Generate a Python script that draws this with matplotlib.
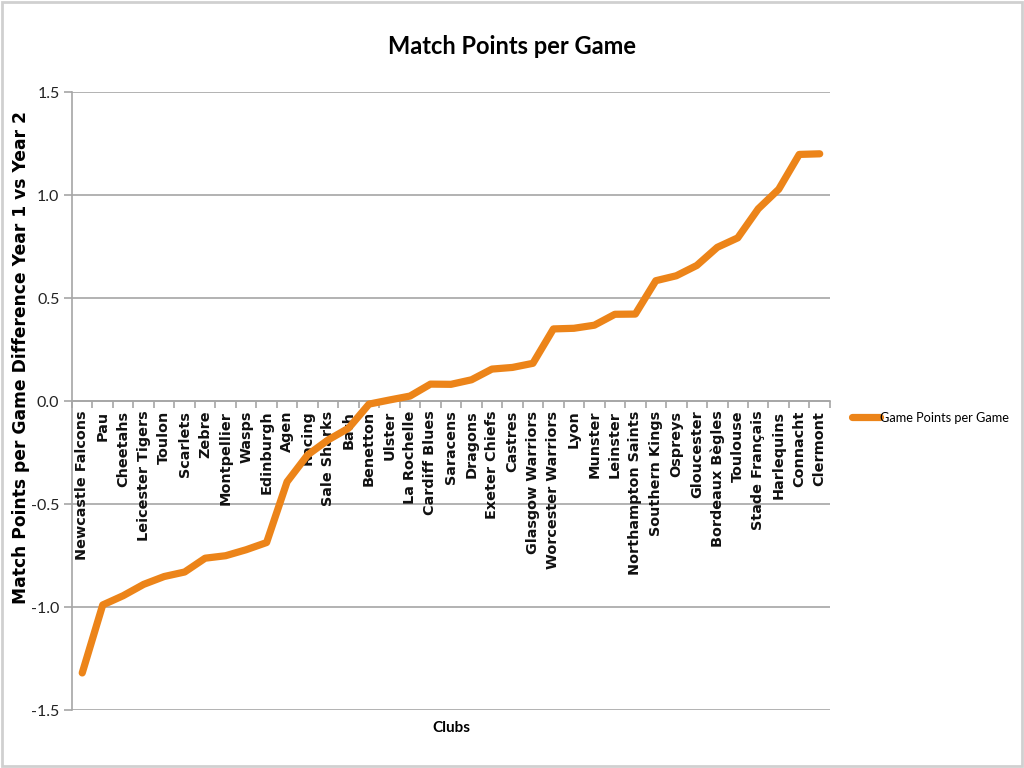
import matplotlib
matplotlib.use("Agg")
import matplotlib.pyplot as plt
from matplotlib.patches import Rectangle
from matplotlib.ticker import FixedLocator

clubs = ["Newcastle Falcons", "Pau", "Cheetahs", "Leicester Tigers", "Toulon", "Scarlets",
         "Zebre", "Montpellier", "Wasps", "Edinburgh", "Agen", "Racing", "Sale Sharks", "Bath",
         "Benetton", "Ulster", "La Rochelle", "Cardiff Blues", "Saracens", "Dragons",
         "Exeter Chiefs", "Castres", "Glasgow Warriors", "Worcester Warriors", "Lyon", "Munster",
         "Leinster", "Northampton Saints", "Southern Kings", "Ospreys", "Gloucester",
         "Bordeaux Bègles", "Toulouse", "Stade Français", "Harlequins", "Connacht", "Clermont"]
values = [-1.32, -0.99, -0.945, -0.89, -0.852, -0.83, -0.763, -0.751, -0.722, -0.687,
          -0.392, -0.262, -0.189, -0.132, -0.015, 0.005, 0.024, 0.082, 0.081, 0.103,
          0.155, 0.163, 0.183, 0.35, 0.353, 0.368, 0.421, 0.422, 0.584, 0.608, 0.658,
          0.746, 0.792, 0.933, 1.028, 1.197, 1.2]
yticks = [-1.5, -1.0, -0.5, 0.0, 0.5, 1.0, 1.5]
series_name = "Game Points per Game"

narrow = ["Lato", "DejaVu Sans"]
orange = "#EC8419"
grid_c = "#A6A6A6"

fig = plt.figure(figsize=(10.24, 7.68), dpi=100)
ax = fig.add_axes([0.0703, 0.0755, 0.7402, 0.8047])

x = list(range(len(clubs)))
ax.plot(x, values, color=orange, lw=5.2, solid_capstyle="round", solid_joinstyle="round",
        label=series_name, zorder=3)

ax.set_xlim(-0.5, len(clubs) - 0.5)
ax.set_ylim(-1.5, 1.5)
ax.set_yticks(yticks)
ax.set_yticklabels([f"{v:.1f}" for v in yticks], fontfamily=narrow, fontsize=11.5,
                   color="#222222")
for v in yticks:
    ax.axhline(v, color=grid_c, lw=1.2, zorder=1)

for s in ["top", "right"]:
    ax.spines[s].set_visible(False)
ax.spines["left"].set_color(grid_c)
ax.spines["left"].set_linewidth(1.2)
ax.spines["bottom"].set_position(("data", 0))
ax.spines["bottom"].set_color(grid_c)
ax.spines["bottom"].set_linewidth(1.2)

ax.tick_params(axis="y", direction="out", length=6, color=grid_c, width=1.2, pad=3)
ax.set_xticks(x)
ax.set_xticklabels(clubs, rotation=90, fontfamily="DejaVu Sans", fontweight="bold",
                   fontsize=10.4, va="top", ha="center", color="#111111")
ax.tick_params(axis="x", which="major", length=0, pad=7)
ax.xaxis.set_minor_locator(FixedLocator([i - 0.5 for i in range(len(clubs) + 1)]))
ax.tick_params(axis="x", which="minor", direction="out", length=5, color=grid_c, width=1.2)

ax.set_ylabel("Match Points per Game Difference Year 1 vs Year 2", fontfamily="DejaVu Sans",
              fontweight="bold", fontsize=12.3)
ax.yaxis.set_label_coords(-0.056, 0.571)
fig.text(0.4405, 0.052, "Clubs", ha="center", va="center", fontfamily=narrow,
         fontweight="bold", fontsize=11)
fig.text(0.5, 0.94, "Match Points per Game", ha="center", va="center", fontfamily=narrow,
         fontweight="bold", fontsize=17)

leg = fig.legend(loc="center left", bbox_to_anchor=(0.832, 0.456), frameon=False,
                 handlelength=2.2, handletextpad=0.0, borderpad=0, borderaxespad=0,
                 prop={"family": narrow, "size": 9.2})

fig.add_artist(Rectangle((0.002, 0.002), 0.996, 0.996, transform=fig.transFigure,
                         fill=False, edgecolor="#D0D0D0", lw=2))

fig.savefig("out.png", dpi=100)
